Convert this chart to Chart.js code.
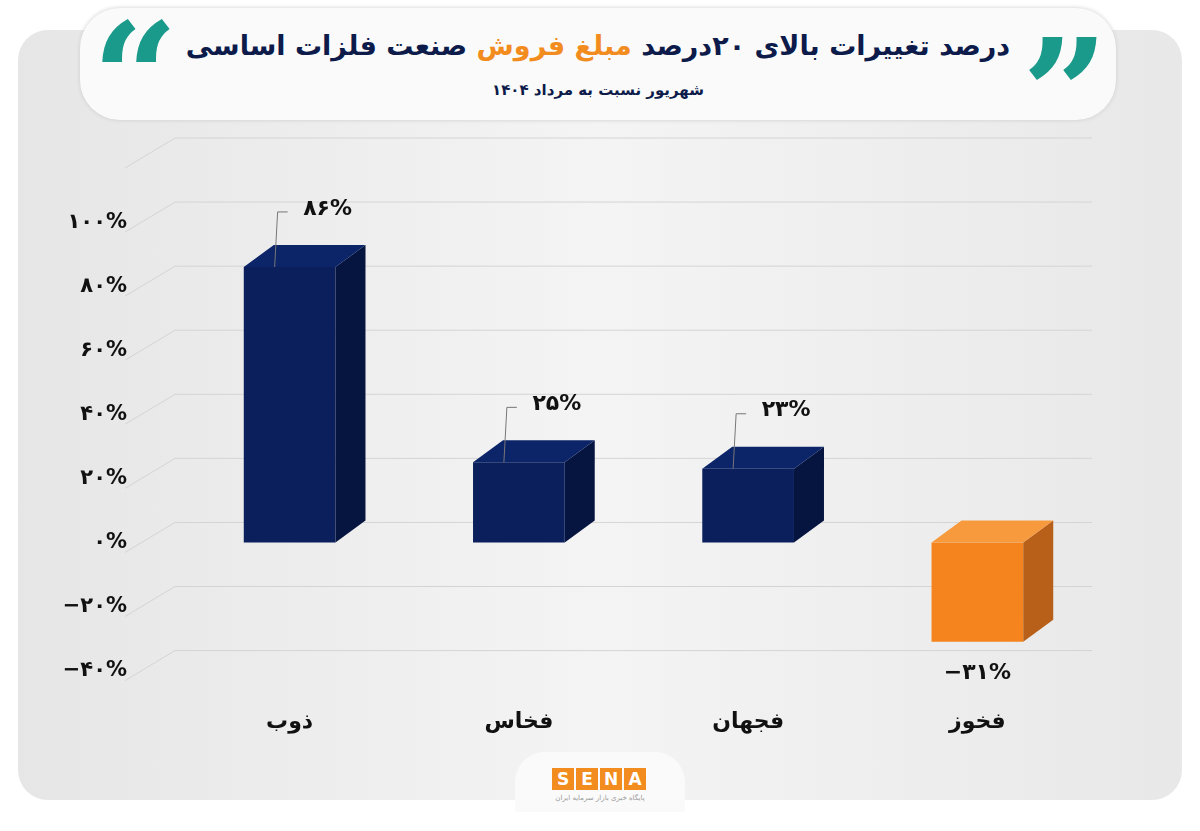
<!DOCTYPE html>
<html><head><meta charset="utf-8">
<script src="https://cdn.jsdelivr.net/npm/chart.js@4"></script>
<style>
body{margin:0;width:1200px;height:831px;background:#fff;overflow:hidden;font-family:"DejaVu Sans",sans-serif;}
#card{position:absolute;left:18px;top:30px;width:1164px;height:770px;border-radius:30px;background:linear-gradient(90deg,#e6e6e6,#f4f4f4 50%,#e8e8e8);}
#tbox{position:absolute;left:80px;top:8px;width:1036px;height:112px;border-radius:40px;background:#fafafa;box-shadow:0 0 4px #ccc;text-align:center;direction:rtl;}
#t1{font-weight:bold;font-size:27px;color:#0d1b4a;margin-top:22px;}
#t1 span{color:#f28c1f;}
#t2{font-weight:bold;font-size:15px;color:#0d1b4a;margin-top:20px;}
.q{position:absolute;font-size:150px;font-weight:bold;color:#1a9a8a;font-family:"DejaVu Serif",serif;line-height:1;}
#logo{position:absolute;left:515px;top:752px;width:170px;height:60px;border-radius:30px 30px 0 0;background:#fafafa;}
#sena{position:absolute;left:552px;top:768px;display:flex;gap:2px;}
#sena div{width:22px;height:22px;background:#f28c1f;color:#fff;font:bold 17px "DejaVu Sans";text-align:center;line-height:22px;}
#sub{position:absolute;left:552px;top:794px;width:96px;font-size:7px;color:#999;text-align:center;direction:rtl;}
canvas{position:absolute;left:0;top:0;}
</style></head><body>
<div id="card"></div>
<div id="tbox"><div id="t1">درصد تغییرات بالای ۲۰درصد <span>مبلغ فروش</span> صنعت فلزات اساسی</div>
<div id="t2">شهریور نسبت به مرداد ۱۴۰۴</div></div>
<div class="q" style="left:92px;top:2px">“</div>
<div class="q" style="left:1022px;top:18px">”</div>
<div id="logo"></div>
<div id="sena"><div>S</div><div>E</div><div>N</div><div>A</div></div>
<div id="sub">پایگاه خبری بازار سرمایه ایران</div>
<canvas id="c" width="1200" height="831"></canvas>
<script>
const categories=["ذوب","فخاس","فجهان","فخوز"];
const values=[86,25,23,-31];
const valueLabels=["۸۶%","۲۵%","۲۳%","−۳۱%"];
const tickLabels={"100":"۱۰۰%","80":"۸۰%","60":"۶۰%","40":"۴۰%","20":"۲۰%","0":"۰%","-20":"−۲۰%","-40":"−۴۰%"};
const colors=values.map(v=>v<0?"#f5841f":"#0b1f5c");
const sides=values.map(v=>v<0?"#b8601a":"#061440");
const tops=values.map(v=>v<0?"#f79a3e":"#0c2468");
const DX=30,DY=-22;
const deco={id:'deco',
 beforeDatasetsDraw(ch){const c=ch.ctx,a=ch.chartArea,y=ch.scales.y;c.save();c.strokeStyle="#d4d4d4";c.lineWidth=1;
  for(let v=-40;v<=120;v+=20){const py=y.getPixelForValue(v);c.beginPath();c.moveTo(a.left-50,py+10);c.lineTo(a.left,py-20);c.lineTo(a.right,py-20);c.stroke();}
  c.restore();},
 afterDatasetsDraw(ch){const c=ch.ctx,m=ch.getDatasetMeta(0);c.save();
  m.data.forEach((b,i)=>{const l=b.x-b.width/2,r=b.x+b.width/2,t=Math.min(b.y,b.base),bt=Math.max(b.y,b.base);
   c.fillStyle=sides[i];c.beginPath();c.moveTo(r,t);c.lineTo(r+DX,t+DY);c.lineTo(r+DX,bt+DY);c.lineTo(r,bt);c.fill();
   c.fillStyle=tops[i];c.beginPath();c.moveTo(l,t);c.lineTo(l+DX,t+DY);c.lineTo(r+DX,t+DY);c.lineTo(r,t);c.fill();
   c.fillStyle="#111";c.font="bold 22px 'DejaVu Sans'";c.textAlign="center";c.textBaseline="middle";
   if(values[i]>=0){c.strokeStyle="#777";c.lineWidth=1;c.beginPath();c.moveTo(b.x-15,t);c.lineTo(b.x-12,t-55);c.lineTo(b.x-2,t-55);c.stroke();
    c.fillText(valueLabels[i],b.x+38,t-58);}
   else c.fillText(valueLabels[i],b.x,bt+32);
  });c.restore();}};
new Chart(document.getElementById('c'),{type:'bar',
 data:{labels:categories,datasets:[{data:values,backgroundColor:colors,barPercentage:0.8,categoryPercentage:0.5}]},
 options:{responsive:false,animation:false,
  layout:{padding:{top:158,bottom:66,left:40,right:108}},
  plugins:{legend:{display:false},tooltip:{enabled:false}},
  scales:{
   y:{min:-40,max:120,ticks:{stepSize:20,color:"#111",font:{size:21,weight:'bold',family:"DejaVu Sans"},padding:40,callback:v=>tickLabels[v]||""},grid:{display:false},border:{display:false},afterFit(s){s.width=135;}},
   x:{ticks:{color:"#111",font:{size:22,weight:'bold',family:"DejaVu Sans"},padding:30},grid:{display:false},border:{display:false}}
  }},plugins:[deco]});
</script></body></html>
